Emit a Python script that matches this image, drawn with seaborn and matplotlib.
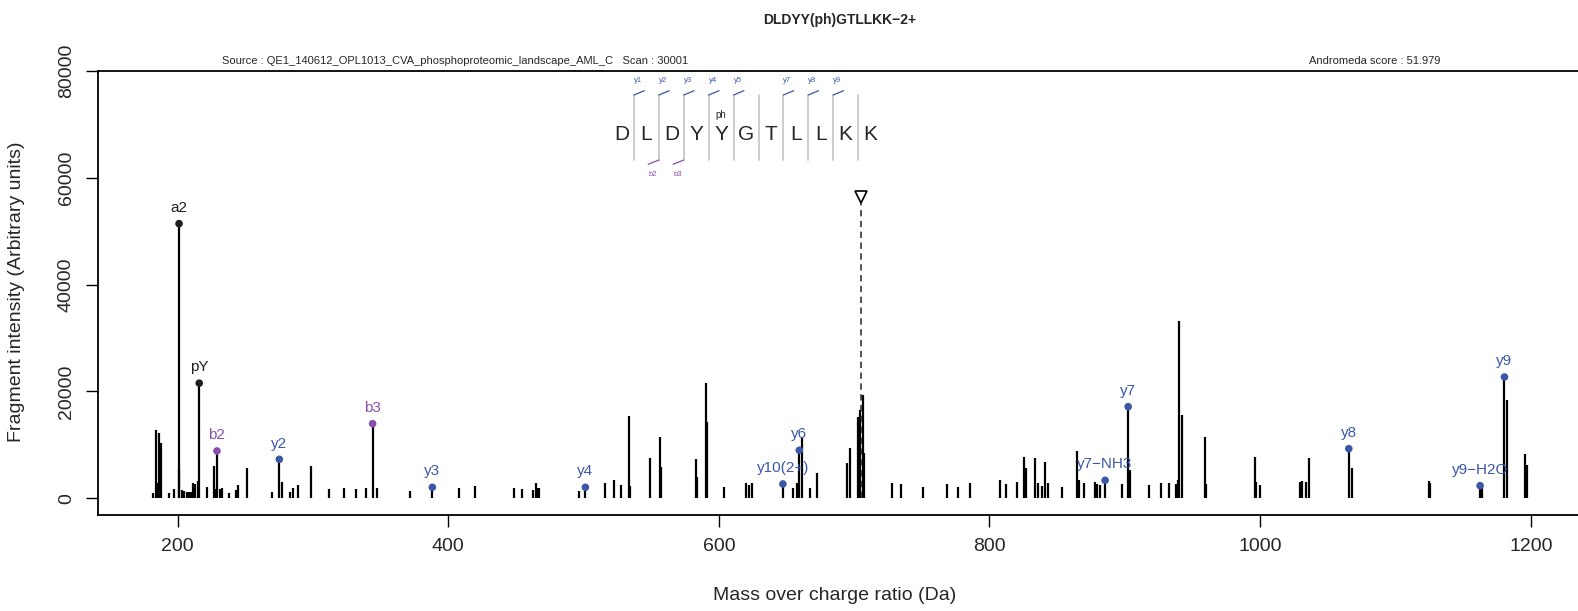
import matplotlib
matplotlib.use("Agg")
import matplotlib.pyplot as plt
import seaborn as sns
import pandas as pd
from matplotlib.lines import Line2D

# --- data ---
title = "DLDYY(ph)GTLLKK\u22122+"
source_txt = "Source : QE1_140612_OPL1013_CVA_phosphoproteomic_landscape_AML_C   Scan : 30001"
score_txt = "Andromeda score : 51.979"

peptide = ["D", "L", "D", "Y", "Y", "G", "T", "L", "L", "K", "K"]
phospho_pos = 4
y_marks = ["y1", "y2", "y3", "y4", "y5", "", "y7", "y8", "y9", ""]
b_marks = ["", "b2", "b3", "", "", "", "", "", "", ""]

# unannotated peaks
peak_mz = [181.7, 183.9, 185.1, 186.6, 187.8, 193.9, 197.6, 200.9, 203.3, 205.0,
           206.8, 208.5, 210.0, 211.7, 213.2, 214.9, 221.8, 226.8, 228.7, 231.4,
           232.9, 237.8, 243.0, 244.5, 251.6, 269.8, 277.0, 282.9, 285.6, 288.8,
           298.9, 311.9, 322.8, 331.9, 339.1, 347.2,
           372.0, 407.8, 420.1, 448.7, 454.8, 462.9, 464.7, 465.9, 467.3, 496.7,
           516.1, 522.8, 527.9, 533.8, 534.3,
           548.9, 556.5, 557.0, 582.9, 583.5, 590.6, 591.3, 603.8, 619.9, 622.5,
           624.3, 654.6, 657.8, 661.5, 667.4, 672.6, 694.7, 696.7, 703.1, 704.3,
           706.2, 707.3,
           727.7, 734.8, 750.9, 768.8, 776.7, 785.8, 807.8, 812.0, 820.1, 825.7,
           826.8, 833.9, 835.6, 838.8, 841.0, 843.0, 853.8, 864.9, 866.1, 869.8,
           878.0, 879.2, 881.7, 897.9, 904.0, 917.7, 926.5, 932.9, 937.8, 939.5,
           940.4, 942.0,
           959.0, 959.8, 996.0, 997.2, 999.9, 1029.4, 1031.1, 1033.7, 1035.9,
           1067.9, 1124.5, 1125.5, 1163.7, 1182.2, 1195.9, 1196.9]
peak_int = [1050, 12790, 2800, 12170, 10410, 1050, 1680, 5430, 1500, 1370,
            1120, 1120, 1120, 2920, 2700, 3240, 2060, 6050, 1680, 1680,
            1870, 1050, 1560, 2500, 5610, 1250, 3110, 1250, 1870, 2500,
            6050, 1680, 2000, 1800, 2000, 2000,
            1440, 1870, 2310, 1870, 1750, 1560, 2810, 2000, 1870, 1440,
            2930, 3430, 2500, 15350, 2300,
            7490, 11420, 5900, 7300, 4000, 21530, 14340, 2180, 2810, 2500,
            2810, 2000, 2810, 11230, 2000, 4680, 6670, 9480, 15290, 16500,
            19400, 8420,
            2930, 2680, 2060, 2680, 2180, 2930, 3430, 2620, 3120, 7800,
            5620, 7490, 2930, 2370, 6740, 2810, 2060, 8860, 3430, 2930,
            3060, 2680, 2500, 2620, 5310, 2500, 2930, 2810, 2620, 3430,
            33250, 15600,
            11540, 2680, 7680, 2990, 2560, 2990, 3310, 2990, 7490,
            5740, 3310, 2930, 2000, 18410, 8240, 6240]

# annotated fragment ions
ion_name = ["a2", "pY", "b2", "y2", "b3", "y3", "y4", "y10(2+)", "y6",
            "y7\u2212NH3", "y7", "y8", "y9\u2212H2O", "y9"]
ion_mz = [201.12, 216.04, 229.12, 275.21, 344.15, 388.29, 501.38, 647.33, 659.45,
          885.45, 902.48, 1065.54, 1162.55, 1180.57]
ion_int = [51420, 21560, 8860, 7300, 13970, 2060, 2060, 2680, 8990,
           3370, 17150, 9290, 2360, 22710]
ion_kind = ["other", "other", "b", "y", "b", "y", "y", "y", "y",
            "y", "y", "y", "y", "y"]

precursor_mz = 704.84
precursor_top = 56400

kind_colors = {"other": "#1f1f1f", "b": "#8a4fae", "y": "#3b58a8"}

W, H = 1578, 611
sns.set_style("ticks")
plt.rcParams["font.family"] = ["Liberation Sans", "DejaVu Sans"]

fig = plt.figure(figsize=(W / 100, H / 100), dpi=100)
ax = fig.add_axes([97.7 / W, (H - 515) / H, (W - 97.7) / W, (515 - 71) / H])


def fx(px):
    return px / W


def fy(py):
    return 1 - py / H


# sticks
ax.vlines(peak_mz, 0, peak_int, color="black", lw=1.6)
ax.vlines(ion_mz, 0, ion_int, color="black", lw=1.6)

ions = pd.DataFrame({"mz": ion_mz, "intensity": ion_int, "kind": ion_kind, "name": ion_name})
sns.scatterplot(data=ions, x="mz", y="intensity", hue="kind", palette=kind_colors,
                s=30, linewidth=0, legend=False, ax=ax, zorder=3)
for _, r in ions.iterrows():
    ax.annotate(r["name"], (r["mz"], r["intensity"]), xytext=(0, 8.5),
                textcoords="offset points", ha="center", va="baseline",
                fontsize=11, color=kind_colors[r["kind"]])

# precursor
ax.vlines(precursor_mz, 0, precursor_top, color="#444444", lw=1.3,
          linestyles=(0, (3.5, 2.5)), zorder=1)
ax.plot([precursor_mz], [precursor_top], marker="v", markersize=9,
        markerfacecolor="white", markeredgecolor="black", markeredgewidth=1.2, zorder=4)

ax.set_xlim(141.0, 1234.9)
ax.set_ylim(-3127, 80000)
ax.set_xticks([200, 400, 600, 800, 1000, 1200])
ax.set_yticks([0, 20000, 40000, 60000, 80000])
ax.set_yticklabels(["0", "20000", "40000", "60000", "80000"], rotation=90, va="center")
ax.tick_params(axis="both", length=8.5, width=1, labelsize=14, color="black", pad=8)
ax.spines["right"].set_visible(False)
for s in ["left", "bottom", "top"]:
    ax.spines[s].set_linewidth(1.3)
    ax.spines[s].set_color("black")
ax.set_xlabel("")
ax.set_ylabel("")

fig.text(fx(840), fy(20), title, ha="center", va="center", fontsize=10, fontweight="bold")
fig.text(fx(222), fy(61), source_txt, ha="left", va="center", fontsize=8)
fig.text(fx(1309), fy(61), score_txt, ha="left", va="center", fontsize=8)
fig.text(fx(835), fy(596), "Mass over charge ratio (Da)", ha="center", va="center", fontsize=14)
fig.text(fx(17), fy(292), "Fragment intensity (Arbitrary units)", ha="center", va="center",
         rotation=90, fontsize=14)

# peptide sequence with fragment coverage marks
step = 24.9
sep0 = 634.0
for i, aa in enumerate(peptide):
    cx = sep0 - step / 2 + i * step
    fig.text(fx(cx), fy(134), aa, ha="center", va="center", fontsize=15)
    if i == phospho_pos:
        fig.text(fx(cx), fy(115), "ph", ha="center", va="center", fontsize=7)
for j in range(len(peptide) - 1):
    sx = sep0 + j * step
    fig.add_artist(Line2D([fx(sx), fx(sx)], [fy(95), fy(160)], color="#c8c8c8",
                          lw=1.3, transform=fig.transFigure))
    if y_marks[j]:
        fig.add_artist(Line2D([fx(sx), fx(sx + 10.3)], [fy(95), fy(90.7)],
                              color=kind_colors["y"], lw=0.9, transform=fig.transFigure))
        fig.text(fx(sx + 4), fy(80), y_marks[j], ha="center", va="center", fontsize=5.5,
                 color=kind_colors["y"])
    if b_marks[j]:
        fig.add_artist(Line2D([fx(sx), fx(sx - 10.7)], [fy(160), fy(164.3)],
                              color=kind_colors["b"], lw=0.9, transform=fig.transFigure))
        fig.text(fx(sx - 6), fy(174), b_marks[j], ha="center", va="center", fontsize=5.5,
                 color=kind_colors["b"])

fig.savefig("out.png", dpi=100)
